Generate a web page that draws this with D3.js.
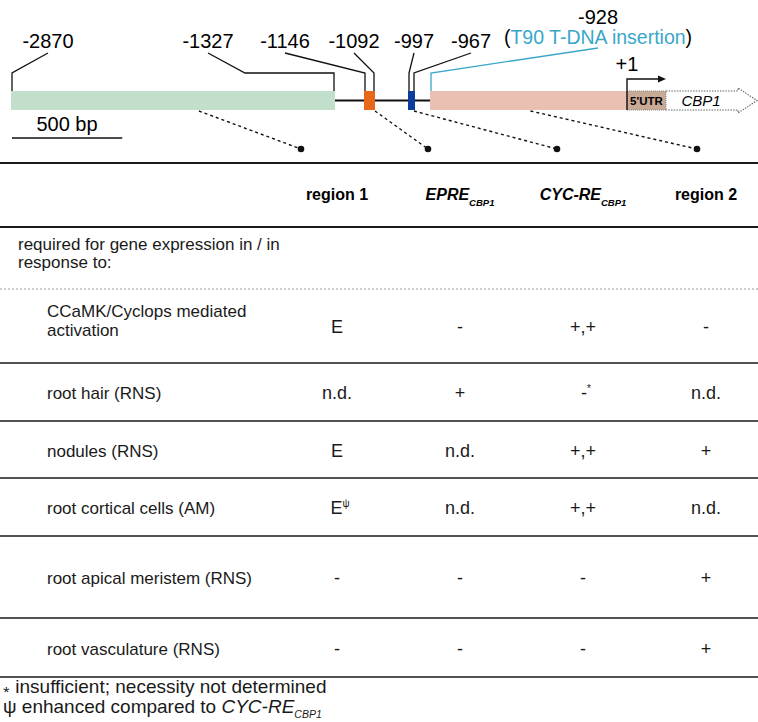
<!DOCTYPE html>
<html>
<head>
<meta charset="utf-8">
<script src="https://cdn.jsdelivr.net/npm/d3@7"></script>
<style>
  body { margin: 0; background: #fff; }
  svg { display: block; font-family: 'Liberation Sans', Arial, Helvetica, sans-serif; }
</style>
</head>
<body>
<div id="chart"></div>
<script>
// promoter positions (bp, relative to transcription start)
const markerPos = [-2870, -1327, -1146, -1092, -997, -967, -928, 1];
const markerLabels = ['-2870', '-1327', '-1146', '-1092', '-997', '-967', '-928', '+1'];

// promoter elements
const elementNames = ['region 1', 'EPRE', 'CYC-RE', 'region 2'];
const elementStart = [-2870, -1146, -997, -928];
const elementEnd = [-1327, -1092, -967, 1];
const scaleBarBp = 500;

// table
const columnNames = ['region 1', 'EPRE', 'CYC-RE', 'region 2'];
const columnSubs = ['', 'CBP1', 'CBP1', ''];
const columnItalic = [false, true, true, false];
const rowLabels = [
  ['CCaMK/Cyclops mediated', 'activation'],
  ['root hair (RNS)'],
  ['nodules (RNS)'],
  ['root cortical cells (AM)'],
  ['root apical meristem (RNS)'],
  ['root vasculature (RNS)']
];
const region1Values = ['E', 'n.d.', 'E', 'E^ψ', '-', '-'];
const epreValues = ['-', '+', 'n.d.', 'n.d.', '-', '-'];
const cycValues = ['+,+', '-^*', '+,+', '+,+', '-', '-'];
const region2Values = ['-', 'n.d.', '+', 'n.d.', '+', '+'];

// layout
const W = 758, H = 722;
const mapPx = [11, 335, 364, 375, 408, 415, 430, 627]; // diagram is not drawn to a single scale
const barY = 91, barH = 19;
const colors = {
  'region 1': '#c2dfcb',
  'EPRE': '#e8681a',
  'CYC-RE': '#0b3d9f',
  'region 2': '#e9c0b2',
  utr: '#c8aa96',
  tdna: '#3aa7c9'
};
const labelDx = [37, -127, -79, -21, 6, 56, 168, 0];
const edgeInset = [1, -1, 1, -1, 1, -1, 1, 0];
const connectorFrac = [0.58, 1, 0.85, 0.51];
const dotDx = [-36, -32, -26, -9];
const rowHeights = [74, 58, 57, 58, 82, 59];

const svg = d3.select('#chart').append('svg')
  .attr('width', W).attr('height', H);

const x = d3.scaleLinear().domain(markerPos).range(mapPx);
const bpPx = (mapPx[7] - mapPx[6]) / (markerPos[7] - markerPos[6]);

// ---------- promoter diagram ----------
const g = svg.append('g');

g.append('line')
  .attr('x1', x(markerPos[0])).attr('x2', x(1))
  .attr('y1', barY + barH / 2).attr('y2', barY + barH / 2)
  .attr('stroke', '#111').attr('stroke-width', 2);

g.selectAll('rect.el')
  .data(elementNames)
  .join('rect')
  .attr('class', 'el')
  .attr('x', (d, i) => x(elementStart[i]))
  .attr('y', barY)
  .attr('width', (d, i) => x(elementEnd[i]) - x(elementStart[i]))
  .attr('height', barH)
  .attr('fill', d => colors[d]);

// 5'UTR box and CBP1 gene arrow
const utrX = x(1), utrW = 39;
g.append('rect')
  .attr('x', utrX).attr('y', barY).attr('width', utrW).attr('height', barH)
  .attr('fill', colors.utr)
  .attr('stroke', '#8a8a8a').attr('stroke-width', 1).attr('stroke-dasharray', '1,1');
g.append('text')
  .attr('x', utrX + utrW / 2).attr('y', barY + 14)
  .attr('text-anchor', 'middle')
  .attr('font-size', 11.5).attr('font-weight', 'bold')
  .text("5'UTR");

const gx0 = utrX + utrW, gx1 = gx0 + 72, gtip = gx0 + 91;
g.append('path')
  .attr('d', `M${gx0},${barY}H${gx1}V${barY - 3}L${gtip},${barY + barH / 2}L${gx1},${barY + barH + 3}V${barY + barH}H${gx0}`)
  .attr('fill', 'none')
  .attr('stroke', '#666').attr('stroke-width', 1.1).attr('stroke-dasharray', '1.5,1.2');
g.append('text')
  .attr('x', gx0 + 35).attr('y', barY + 14.5)
  .attr('text-anchor', 'middle')
  .attr('font-size', 15).attr('font-style', 'italic')
  .text('CBP1');

// transcription start arrow
g.append('path')
  .attr('d', `M${x(1)},${barY + barH}V${barY - 12}H${x(1) + 32}`)
  .attr('fill', 'none').attr('stroke', '#111').attr('stroke-width', 1.4);
g.append('path')
  .attr('d', `M${x(1) + 39},${barY - 12}l-8,-3.5v7z`)
  .attr('fill', '#111');
g.append('text')
  .attr('x', x(1)).attr('y', 71)
  .attr('text-anchor', 'middle')
  .attr('font-size', 20)
  .text(markerLabels[7]);

// position labels with leader lines
const kneeY = 73;
const leaders = markerPos.slice(0, 7).map((p, i) => {
  const mx = x(p) + edgeInset[i];
  const lx = x(p) + labelDx[i];
  const topY = i === 6 ? 48 : 53;
  let d = `M${mx},${barY}V${kneeY}`;
  if (i === 1) d += `H${mx - 89}`;
  d += `L${lx},${topY}`;
  return { d, lx, i };
});

g.selectAll('path.leader')
  .data(leaders)
  .join('path')
  .attr('class', 'leader')
  .attr('d', d => d.d)
  .attr('fill', 'none')
  .attr('stroke', d => d.i === 6 ? colors.tdna : '#111')
  .attr('stroke-width', 1.3);

g.selectAll('text.pos')
  .data(leaders)
  .join('text')
  .attr('class', 'pos')
  .attr('x', d => d.lx)
  .attr('y', d => d.i === 6 ? 24 : 48)
  .attr('text-anchor', 'middle')
  .attr('font-size', 20)
  .text(d => markerLabels[d.i]);

const tdna = g.append('text')
  .attr('x', x(markerPos[6]) + labelDx[6]).attr('y', 44)
  .attr('text-anchor', 'middle')
  .attr('font-size', 19.5);
tdna.append('tspan').text('(');
tdna.append('tspan').attr('fill', colors.tdna).text('T90 T-DNA insertion');
tdna.append('tspan').text(')');

// scale bar
g.append('line')
  .attr('x1', 12).attr('x2', 12 + scaleBarBp * bpPx * 1.04)
  .attr('y1', 138).attr('y2', 138)
  .attr('stroke', '#111').attr('stroke-width', 1.3);
g.append('text')
  .attr('x', 67).attr('y', 131)
  .attr('text-anchor', 'middle')
  .attr('font-size', 20)
  .text(scaleBarBp + ' bp');

// ---------- table ----------
const col = d3.scalePoint().domain(columnNames).range([337, 706]);

// dotted connectors from elements to table columns
const dotY = 149;
g.selectAll('line.conn')
  .data(elementNames)
  .join('line')
  .attr('class', 'conn')
  .attr('x1', (d, i) => x(elementStart[i]) + connectorFrac[i] * (x(elementEnd[i]) - x(elementStart[i])))
  .attr('y1', barY + barH + 1)
  .attr('x2', (d, i) => col(columnNames[i]) + dotDx[i])
  .attr('y2', dotY)
  .attr('stroke', '#111').attr('stroke-width', 1.4).attr('stroke-dasharray', '3,3');
g.selectAll('circle.dot')
  .data(elementNames)
  .join('circle')
  .attr('class', 'dot')
  .attr('cx', (d, i) => col(columnNames[i]) + dotDx[i])
  .attr('cy', dotY)
  .attr('r', 3.3)
  .attr('fill', '#111');

const t = svg.append('g');
const hline = (y, w, dash, color) => t.append('line')
  .attr('x1', 0).attr('x2', W).attr('y1', y).attr('y2', y)
  .attr('stroke', color || '#1a1a1a').attr('stroke-width', w)
  .attr('stroke-dasharray', dash || null);

hline(163, 2);
hline(227, 2);
hline(289, 1, '2,2', '#9a9a9a');

// header
const head = t.selectAll('text.head')
  .data(columnNames)
  .join('text')
  .attr('class', 'head')
  .attr('x', d => col(d))
  .attr('y', 200)
  .attr('text-anchor', 'middle')
  .attr('font-size', 16)
  .attr('font-weight', 'bold')
  .attr('font-style', (d, i) => columnItalic[i] ? 'italic' : null);
head.append('tspan').text(d => d);
head.filter((d, i) => columnSubs[i])
  .append('tspan')
  .attr('font-size', 9.5)
  .attr('dy', 6)
  .text((d, i) => columnSubs[columnNames.indexOf(d)]);

// section title
const sec = t.append('text').attr('font-size', 17).attr('fill', '#1a1a1a');
['required for gene expression in / in', 'response to:'].forEach((s, i) => {
  sec.append('tspan').attr('x', 18).attr('y', 250 + i * 18).text(s);
});

// rows
const rowTop = [];
let acc = 289;
rowHeights.forEach(h => { rowTop.push(acc); acc += h; });

const values = [region1Values, epreValues, cycValues, region2Values];

const rows = t.selectAll('g.row')
  .data(rowLabels)
  .join('g')
  .attr('class', 'row');

rows.append('line')
  .attr('x1', 0).attr('x2', W)
  .attr('y1', (d, i) => rowTop[i] + rowHeights[i])
  .attr('y2', (d, i) => rowTop[i] + rowHeights[i])
  .attr('stroke', '#1a1a1a').attr('stroke-width', 1.5);

rows.append('text')
  .attr('font-size', 17)
  .attr('fill', '#1a1a1a')
  .each(function (d, i) {
    const mid = rowTop[i] + rowHeights[i] / 2;
    const y0 = mid + 7 - (d.length - 1) * 19 + (d.length > 1 ? 3 : 0);
    d.forEach((s, k) => {
      d3.select(this).append('tspan').attr('x', 47).attr('y', y0 + k * 19).text(s);
    });
  });

rows.each(function (d, i) {
  const mid = rowTop[i] + rowHeights[i] / 2;
  values.forEach((vals, c) => {
    const parts = vals[i].split('^');
    const txt = d3.select(this).append('text')
      .attr('x', col(columnNames[c]) + (parts[1] ? 3 : 0))
      .attr('y', mid + 7)
      .attr('text-anchor', 'middle')
      .attr('font-size', 18)
      .attr('fill', '#1a1a1a');
    txt.append('tspan').text(parts[0]);
    if (parts[1]) {
      txt.append('tspan').attr('font-size', 10).attr('dy', -7).text(parts[1]);
    }
  });
});

// footnotes
const f1 = t.append('text').attr('x', 3).attr('y', 693).attr('font-size', 19).attr('fill', '#1a1a1a');
f1.append('tspan').attr('font-size', 12).attr('dy', -3).text('⁎');
f1.append('tspan').attr('dy', 3).text(' insufficient; necessity not determined');
const f2 = t.append('text').attr('x', 3).attr('y', 713).attr('font-size', 19).attr('fill', '#1a1a1a');
f2.append('tspan').text('ψ enhanced compared to ');
f2.append('tspan').attr('font-style', 'italic').text('CYC-RE');
f2.append('tspan').attr('font-style', 'italic').attr('font-size', 10.5).attr('dy', 5).text('CBP1');
</script>
</body>
</html>
